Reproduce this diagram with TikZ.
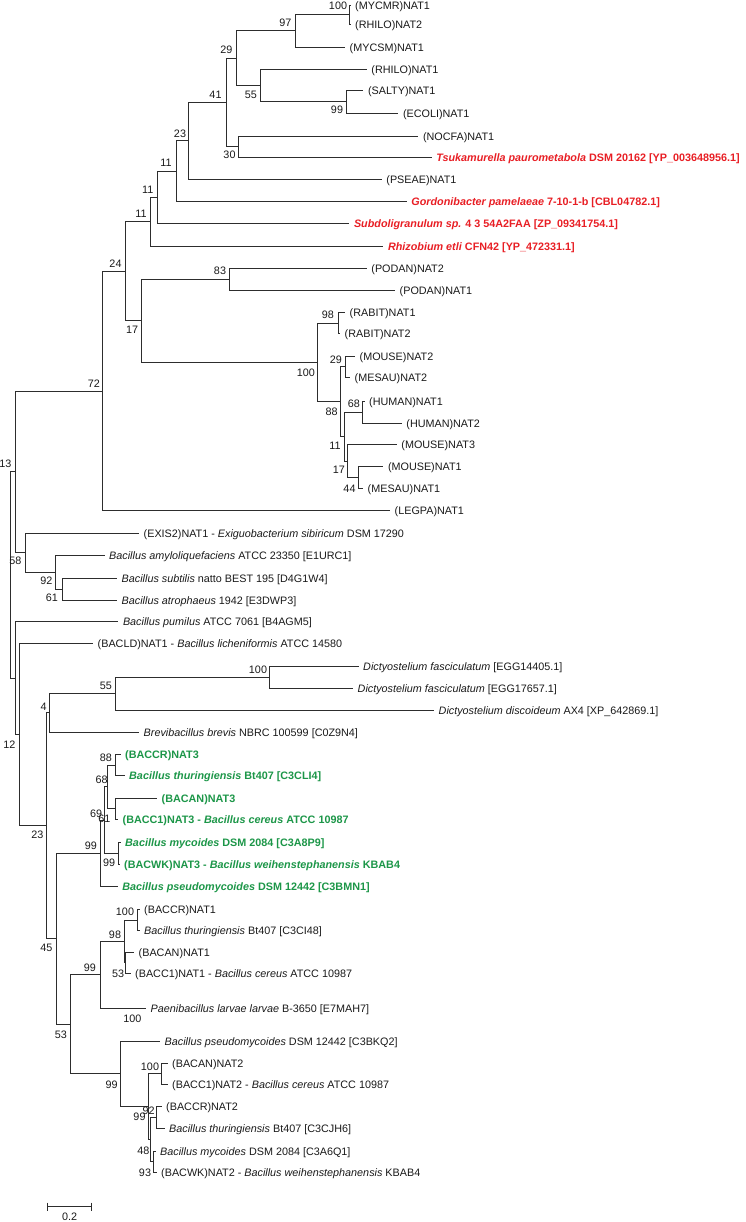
\documentclass[tikz,border=0pt]{standalone}
\usepackage{fontspec}
\setmainfont{Liberation Sans}
\usetikzlibrary{positioning,calc}
\definecolor{treered}{RGB}{232,30,36}
\definecolor{treegreen}{RGB}{28,150,72}
\definecolor{branchgray}{RGB}{45,45,45}
\def\lbl{\fontsize{10.8}{13}\selectfont}
\begin{document}
\begin{tikzpicture}[x=1pt,y=-1pt,
  br/.style={draw=branchgray,line width=0.9pt},
  leaf/.style={anchor=west,inner sep=0pt,yshift=-1.5pt,font=\lbl,text=black!90},
  redleaf/.style={leaf,text=treered,font=\lbl\bfseries},
  greenleaf/.style={leaf,text=treegreen,font=\lbl\bfseries},
  bs/.style={inner sep=0pt,font=\lbl,text=black!90}]
\useasboundingbox (0,0) rectangle (745,1222);
% leaf tips
\coordinate (t1) at (350.5,5);
\coordinate (t2) at (350.5,24);
\coordinate (t3) at (345,47);
\coordinate (t4) at (366.7,69);
\coordinate (t5) at (363.3,90);
\coordinate (t6) at (398.3,113);
\coordinate (t7) at (418.3,136);
\coordinate (t8) at (431.7,157);
\coordinate (t9) at (381.7,179.5);
\coordinate (t10) at (406.7,201.7);
\coordinate (t11) at (349.3,223.3);
\coordinate (t12) at (383.3,246);
\coordinate (t13) at (366.7,268.3);
\coordinate (t14) at (395,290);
\coordinate (t15) at (345,312.7);
\coordinate (t16) at (340,333.3);
\coordinate (t17) at (355,356);
\coordinate (t18) at (350,377.5);
\coordinate (t19) at (364.5,401.5);
\coordinate (t20) at (401.7,423);
\coordinate (t21) at (396.7,444.5);
\coordinate (t22) at (383.3,466.5);
\coordinate (t23) at (363,488.3);
\coordinate (t24) at (390,510.7);
\coordinate (t25) at (139,533.3);
\coordinate (t26) at (104.5,555.5);
\coordinate (t27) at (117,578.3);
\coordinate (t28) at (117,600);
\coordinate (t29) at (118.3,621.7);
\coordinate (t30) at (93,643.5);
\coordinate (t31) at (358.5,666);
\coordinate (t32) at (353,688);
\coordinate (t33) at (434,710);
\coordinate (t34) at (139,732);
\coordinate (t35) at (120.5,754.5);
\coordinate (t36) at (124.5,775.5);
\coordinate (t37) at (157,798);
\coordinate (t38) at (118,819.5);
\coordinate (t39) at (120.5,842.5);
\coordinate (t40) at (119.5,864);
\coordinate (t41) at (117.7,886);
\coordinate (t42) at (139.5,909.5);
\coordinate (t43) at (139.5,930.5);
\coordinate (t44) at (134,952);
\coordinate (t45) at (130.5,973.5);
\coordinate (t46) at (146,1008);
\coordinate (t47) at (160,1041);
\coordinate (t48) at (167.5,1063);
\coordinate (t49) at (167.5,1084.5);
\coordinate (t50) at (161.5,1106);
\coordinate (t51) at (164.5,1128.5);
\coordinate (t52) at (155.5,1151);
\coordinate (t53) at (156.5,1172);
% leaf labels
\node[leaf,right=4.5pt of t1] (l1) {(MYCMR)NAT1};
\node[leaf,right=4.5pt of t2] (l2) {(RHILO)NAT2};
\node[leaf,right=4.5pt of t3] (l3) {(MYCSM)NAT1};
\node[leaf,right=4.5pt of t4] (l4) {(RHILO)NAT1};
\node[leaf,right=4.5pt of t5] (l5) {(SALTY)NAT1};
\node[leaf,right=4.5pt of t6] (l6) {(ECOLI)NAT1};
\node[leaf,right=4.5pt of t7] (l7) {(NOCFA)NAT1};
\node[redleaf,right=4.5pt of t8] (l8) {\textit{Tsukamurella paurometabola} DSM 20162 [YP\_003648956.1]};
\node[leaf,right=4.5pt of t9] (l9) {(PSEAE)NAT1};
\node[redleaf,right=4.5pt of t10] (l10) {\textit{Gordonibacter pamelaeae} 7-10-1-b [CBL04782.1]};
\node[redleaf,right=4.5pt of t11] (l11) {\textit{Subdoligranulum sp.} 4 3 54A2FAA [ZP\_09341754.1]};
\node[redleaf,right=4.5pt of t12] (l12) {\textit{Rhizobium etli} CFN42 [YP\_472331.1]};
\node[leaf,right=4.5pt of t13] (l13) {(PODAN)NAT2};
\node[leaf,right=4.5pt of t14] (l14) {(PODAN)NAT1};
\node[leaf,right=4.5pt of t15] (l15) {(RABIT)NAT1};
\node[leaf,right=4.5pt of t16] (l16) {(RABIT)NAT2};
\node[leaf,right=4.5pt of t17] (l17) {(MOUSE)NAT2};
\node[leaf,right=4.5pt of t18] (l18) {(MESAU)NAT2};
\node[leaf,right=4.5pt of t19] (l19) {(HUMAN)NAT1};
\node[leaf,right=4.5pt of t20] (l20) {(HUMAN)NAT2};
\node[leaf,right=4.5pt of t21] (l21) {(MOUSE)NAT3};
\node[leaf,right=4.5pt of t22] (l22) {(MOUSE)NAT1};
\node[leaf,right=4.5pt of t23] (l23) {(MESAU)NAT1};
\node[leaf,right=4.5pt of t24] (l24) {(LEGPA)NAT1};
\node[leaf,right=4.5pt of t25] (l25) {(EXIS2)NAT1 - \textit{Exiguobacterium sibiricum} DSM 17290};
\node[leaf,right=4.5pt of t26] (l26) {\textit{Bacillus amyloliquefaciens} ATCC 23350 [E1URC1]};
\node[leaf,right=4.5pt of t27] (l27) {\textit{Bacillus subtilis} natto BEST 195 [D4G1W4]};
\node[leaf,right=4.5pt of t28] (l28) {\textit{Bacillus atrophaeus} 1942 [E3DWP3]};
\node[leaf,right=4.5pt of t29] (l29) {\textit{Bacillus pumilus} ATCC 7061 [B4AGM5]};
\node[leaf,right=4.5pt of t30] (l30) {(BACLD)NAT1 - \textit{Bacillus licheniformis} ATCC 14580};
\node[leaf,right=4.5pt of t31] (l31) {\textit{Dictyostelium fasciculatum} [EGG14405.1]};
\node[leaf,right=4.5pt of t32] (l32) {\textit{Dictyostelium fasciculatum} [EGG17657.1]};
\node[leaf,right=4.5pt of t33] (l33) {\textit{Dictyostelium discoideum} AX4 [XP\_642869.1]};
\node[leaf,right=4.5pt of t34] (l34) {\textit{Brevibacillus brevis} NBRC 100599 [C0Z9N4]};
\node[greenleaf,right=4.5pt of t35] (l35) {(BACCR)NAT3};
\node[greenleaf,right=4.5pt of t36] (l36) {\textit{Bacillus thuringiensis} Bt407 [C3CLI4]};
\node[greenleaf,right=4.5pt of t37] (l37) {(BACAN)NAT3};
\node[greenleaf,right=4.5pt of t38] (l38) {(BACC1)NAT3 - \textit{Bacillus cereus} ATCC 10987};
\node[greenleaf,right=4.5pt of t39] (l39) {\textit{Bacillus mycoides} DSM 2084 [C3A8P9]};
\node[greenleaf,right=4.5pt of t40] (l40) {(BACWK)NAT3 - \textit{Bacillus weihenstephanensis} KBAB4};
\node[greenleaf,right=4.5pt of t41] (l41) {\textit{Bacillus pseudomycoides} DSM 12442 [C3BMN1]};
\node[leaf,right=4.5pt of t42] (l42) {(BACCR)NAT1};
\node[leaf,right=4.5pt of t43] (l43) {\textit{Bacillus thuringiensis} Bt407 [C3CI48]};
\node[leaf,right=4.5pt of t44] (l44) {(BACAN)NAT1};
\node[leaf,right=4.5pt of t45] (l45) {(BACC1)NAT1 - \textit{Bacillus cereus} ATCC 10987};
\node[leaf,right=4.5pt of t46] (l46) {\textit{Paenibacillus larvae larvae} B-3650 [E7MAH7]};
\node[leaf,right=4.5pt of t47] (l47) {\textit{Bacillus pseudomycoides} DSM 12442 [C3BKQ2]};
\node[leaf,right=4.5pt of t48] (l48) {(BACAN)NAT2};
\node[leaf,right=4.5pt of t49] (l49) {(BACC1)NAT2 - \textit{Bacillus cereus} ATCC 10987};
\node[leaf,right=4.5pt of t50] (l50) {(BACCR)NAT2};
\node[leaf,right=4.5pt of t51] (l51) {\textit{Bacillus thuringiensis} Bt407 [C3CJH6]};
\node[leaf,right=4.5pt of t52] (l52) {\textit{Bacillus mycoides} DSM 2084 [C3A6Q1]};
\node[leaf,right=4.5pt of t53] (l53) {(BACWK)NAT2 - \textit{Bacillus weihenstephanensis} KBAB4};
% inner nodes
\coordinate (n100a) at (349.3,14.5);
\coordinate (n97) at (295,30.75);
\coordinate (n99a) at (346.7,101.5);
\coordinate (n55a) at (260,85.25);
\coordinate (n29a) at (236,58);
\coordinate (n30) at (238.3,146.5);
\coordinate (n41) at (226,102.25);
\coordinate (n23a) at (188.3,140.9);
\coordinate (n11a) at (176,171.3);
\coordinate (n11b) at (157.3,197.3);
\coordinate (n11c) at (150.7,221.65);
\coordinate (n83) at (229.3,279.15);
\coordinate (n98a) at (338.3,323);
\coordinate (n29b) at (345,366.75);
\coordinate (n68a) at (362.7,412.25);
\coordinate (n44) at (358.3,477.4);
\coordinate (n17a) at (347.3,460.95);
\coordinate (n11d) at (344,436.6);
\coordinate (n88a) at (340,401.7);
\coordinate (n100b) at (317.3,362.35);
\coordinate (n17b) at (141.7,320.75);
\coordinate (n24) at (125,271.2);
\coordinate (n72) at (102.3,390.95);
\coordinate (n61a) at (62.7,589.15);
\coordinate (n92a) at (55,572.3);
\coordinate (n58) at (25,552.8);
\coordinate (n13) at (15,471.9);
\coordinate (n100c) at (269.3,677);
\coordinate (n55b) at (115,693.5);
\coordinate (n4) at (49.3,712.75);
\coordinate (n88b) at (115,765);
\coordinate (n61b) at (115,808.75);
\coordinate (n68b) at (107,786.9);
\coordinate (n99w) at (118.3,853.25);
\coordinate (n69) at (104.5,820.1);
\coordinate (n99g) at (100,853.05);
\coordinate (n100d) at (137.3,920);
\coordinate (n53a) at (125.5,962.75);
\coordinate (n98b) at (124,941.4);
\coordinate (n99b) at (100,974.7);
\coordinate (n100e) at (161.7,1073.75);
\coordinate (n92b) at (156.7,1117.25);
\coordinate (n93) at (153.3,1161.5);
\coordinate (n48) at (150.5,1139.4);
\coordinate (n99d) at (148.3,1106.6);
\coordinate (n99c) at (120,1073.8);
\coordinate (n53b) at (70,1024.25);
\coordinate (n45) at (56.5,938.65);
\coordinate (n23b) at (46.7,825.7);
\coordinate (n12) at (19,734.6);
\coordinate (np2) at (15,678.15);
\coordinate (root) at (10.5,575);
% branches
\draw[br] (n100a) |- (t1);
\draw[br] (n100a) |- (t2);
\draw[br] (n97) |- (n100a);
\draw[br] (n97) |- (t3);
\draw[br] (n99a) |- (t5);
\draw[br] (n99a) |- (t6);
\draw[br] (n55a) |- (t4);
\draw[br] (n55a) |- (n99a);
\draw[br] (n29a) |- (n97);
\draw[br] (n29a) |- (n55a);
\draw[br] (n30) |- (t7);
\draw[br] (n30) |- (t8);
\draw[br] (n41) |- (n29a);
\draw[br] (n41) |- (n30);
\draw[br] (n23a) |- (n41);
\draw[br] (n23a) |- (t9);
\draw[br] (n11a) |- (n23a);
\draw[br] (n11a) |- (t10);
\draw[br] (n11b) |- (n11a);
\draw[br] (n11b) |- (t11);
\draw[br] (n11c) |- (n11b);
\draw[br] (n11c) |- (t12);
\draw[br] (n83) |- (t13);
\draw[br] (n83) |- (t14);
\draw[br] (n98a) |- (t15);
\draw[br] (n98a) |- (t16);
\draw[br] (n29b) |- (t17);
\draw[br] (n29b) |- (t18);
\draw[br] (n68a) |- (t19);
\draw[br] (n68a) |- (t20);
\draw[br] (n44) |- (t22);
\draw[br] (n44) |- (t23);
\draw[br] (n17a) |- (t21);
\draw[br] (n17a) |- (n44);
\draw[br] (n11d) |- (n68a);
\draw[br] (n11d) |- (n17a);
\draw[br] (n88a) |- (n29b);
\draw[br] (n88a) |- (n11d);
\draw[br] (n100b) |- (n98a);
\draw[br] (n100b) |- (n88a);
\draw[br] (n17b) |- (n83);
\draw[br] (n17b) |- (n100b);
\draw[br] (n24) |- (n11c);
\draw[br] (n24) |- (n17b);
\draw[br] (n72) |- (n24);
\draw[br] (n72) |- (t24);
\draw[br] (n61a) |- (t27);
\draw[br] (n61a) |- (t28);
\draw[br] (n92a) |- (t26);
\draw[br] (n92a) |- (n61a);
\draw[br] (n58) |- (t25);
\draw[br] (n58) |- (n92a);
\draw[br] (n13) |- (n72);
\draw[br] (n13) |- (n58);
\draw[br] (n100c) |- (t31);
\draw[br] (n100c) |- (t32);
\draw[br] (n55b) |- (n100c);
\draw[br] (n55b) |- (t33);
\draw[br] (n4) |- (n55b);
\draw[br] (n4) |- (t34);
\draw[br] (n88b) |- (t35);
\draw[br] (n88b) |- (t36);
\draw[br] (n61b) |- (t37);
\draw[br] (n61b) |- (t38);
\draw[br] (n68b) |- (n88b);
\draw[br] (n68b) |- (n61b);
\draw[br] (n99w) |- (t39);
\draw[br] (n99w) |- (t40);
\draw[br] (n69) |- (n68b);
\draw[br] (n69) |- (n99w);
\draw[br] (n99g) |- (n69);
\draw[br] (n99g) |- (t41);
\draw[br] (n100d) |- (t42);
\draw[br] (n100d) |- (t43);
\draw[br] (n53a) |- (t44);
\draw[br] (n53a) |- (t45);
\draw[br] (n98b) |- (n100d);
\draw[br] (n98b) |- (n53a);
\draw[br] (n99b) |- (n98b);
\draw[br] (n99b) |- (t46);
\draw[br] (n100e) |- (t48);
\draw[br] (n100e) |- (t49);
\draw[br] (n92b) |- (t50);
\draw[br] (n92b) |- (t51);
\draw[br] (n93) |- (t52);
\draw[br] (n93) |- (t53);
\draw[br] (n48) |- (n92b);
\draw[br] (n48) |- (n93);
\draw[br] (n99d) |- (n100e);
\draw[br] (n99d) |- (n48);
\draw[br] (n99c) |- (t47);
\draw[br] (n99c) |- (n99d);
\draw[br] (n53b) |- (n99b);
\draw[br] (n53b) |- (n99c);
\draw[br] (n45) |- (n99g);
\draw[br] (n45) |- (n53b);
\draw[br] (n23b) |- (n4);
\draw[br] (n23b) |- (n45);
\draw[br] (n12) |- (t30);
\draw[br] (n12) |- (n23b);
\draw[br] (np2) |- (t29);
\draw[br] (np2) |- (n12);
\draw[br] (root) |- (n13);
\draw[br] (root) |- (np2);
% bootstrap values
\node[bs] (b1) at (338,5.7) {100};
\node[bs] (b2) at (285.3,22.7) {97};
\node[bs] (b3) at (226.3,50) {29};
\node[bs] (b4) at (250.8,95) {55};
\node[bs] (b5) at (337,110) {99};
\node[bs] (b6) at (215.5,95) {41};
\node[bs] (b7) at (229.5,155) {30};
\node[bs] (b8) at (180,133.3) {23};
\node[bs] (b9) at (166,162.7) {11};
\node[bs] (b10) at (147.7,189.3) {11};
\node[bs] (b11) at (141,213.3) {11};
\node[bs] (b12) at (115.5,263.3) {24};
\node[bs] (b13) at (220,271) {83};
\node[bs] (b14) at (132.2,330) {17};
\node[bs] (b15) at (305.8,372.3) {100};
\node[bs] (b16) at (327.8,315) {98};
\node[bs] (b17) at (335.8,359.3) {29};
\node[bs] (b18) at (331.7,411.7) {88};
\node[bs] (b19) at (353.8,404) {68};
\node[bs] (b20) at (335,445.7) {11};
\node[bs] (b21) at (338.8,470) {17};
\node[bs] (b22) at (349.5,488.3) {44};
\node[bs] (b23) at (93.8,383.3) {72};
\node[bs] (b24) at (5.5,464) {13};
\node[bs] (b25) at (15.3,561.2) {58};
\node[bs] (b26) at (46.5,580.7) {92};
\node[bs] (b27) at (52,597.3) {61};
\node[bs] (b28) at (258,670) {100};
\node[bs] (b29) at (105.8,686) {55};
\node[bs] (b30) at (43.7,706.7) {4};
\node[bs] (b31) at (9.5,744.7) {12};
\node[bs] (b32) at (105.8,757.3) {88};
\node[bs] (b33) at (101.7,779.3) {68};
\node[bs] (b34) at (96.2,813.3) {69};
\node[bs] (b35) at (104.3,818.3) {61};
\node[bs] (b36) at (90.8,846) {99};
\node[bs] (b37) at (109.2,862.7) {99};
\node[bs] (b38) at (37.5,835) {23};
\node[bs] (b39) at (125,911.7) {100};
\node[bs] (b40) at (115,934.3) {98};
\node[bs] (b41) at (46.5,948.3) {45};
\node[bs] (b42) at (118.2,974) {53};
\node[bs] (b43) at (90,967.3) {99};
\node[bs] (b44) at (132.3,1018.3) {100};
\node[bs] (b45) at (60.8,1035) {53};
\node[bs] (b46) at (111.7,1085) {99};
\node[bs] (b47) at (150,1066.7) {100};
\node[bs] (b48) at (148.7,1110.7) {92};
\node[bs] (b49) at (139.5,1116.7) {99};
\node[bs] (b50) at (143.3,1151) {48};
\node[bs] (b51) at (145,1172.7) {93};
% scale bar
\coordinate (sb1) at (47.7,1206.7);
\coordinate (sb2) at (91.7,1206.7);
\draw[br] (sb1) -- (sb2);
\draw[br] ($(sb1)+(0,-4)$) -- ($(sb1)+(0,4)$);
\draw[br] ($(sb2)+(0,-4)$) -- ($(sb2)+(0,4)$);
\node[bs] (sbl) at (69.7,1216.7) {0.2};
\end{tikzpicture}
\end{document}
